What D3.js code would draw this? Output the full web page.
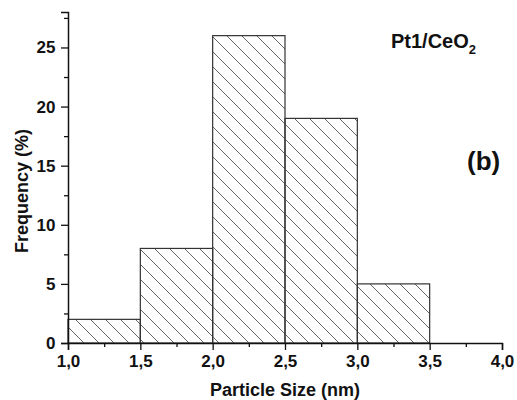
<!DOCTYPE html>
<html>
<head>
<meta charset="utf-8">
<script src="https://cdn.jsdelivr.net/npm/d3@7"></script>
<style>
  body { margin: 0; background: #fff; }
  text { font-family: Arial, "Liberation Sans", sans-serif; font-weight: bold; fill: #111; }
</style>
</head>
<body>
<div id="chart"></div>
<script>
// histogram bins (nm) and frequencies (%)
const binStarts = [1.0, 1.5, 2.0, 2.5, 3.0];
const binEnds = [1.5, 2.0, 2.5, 3.0, 3.5];
const frequencies = [2, 8, 26, 19, 5];
const xTicks = [1.0, 1.5, 2.0, 2.5, 3.0, 3.5, 4.0];
const yTicks = [0, 5, 10, 15, 20, 25];

const margin = {top: 12, right: 15, bottom: 57, left: 68};
const width = 517 - margin.left - margin.right;
const height = 400 - margin.top - margin.bottom;

const svg = d3.select("#chart").append("svg")
    .attr("width", 517)
    .attr("height", 400);

// hatch pattern
const defs = svg.append("defs");
const pat = defs.append("pattern")
    .attr("id", "hatch")
    .attr("patternUnits", "userSpaceOnUse")
    .attr("width", 15)
    .attr("height", 15);
pat.append("path")
    .attr("d", "M-4,-4 L19,19 M-4,11 L4,19 M11,-4 L19,4")
    .attr("stroke", "#666")
    .attr("stroke-width", 1);

const g = svg.append("g")
    .attr("transform", `translate(${margin.left},${margin.top})`);

const x = d3.scaleLinear().domain([1, 4]).range([0, width]);
const y = d3.scaleLinear().domain([0, 28]).range([height, 0]);

// bars
g.selectAll("rect.bar")
    .data(frequencies)
    .enter()
    .append("rect")
    .attr("class", "bar")
    .attr("x", (d, i) => x(binStarts[i]))
    .attr("width", (d, i) => x(binEnds[i]) - x(binStarts[i]))
    .attr("y", d => y(d))
    .attr("height", d => y(0) - y(d))
    .attr("fill", "url(#hatch)")
    .attr("stroke", "#333")
    .attr("stroke-width", 1.2);

// minor ticks
const xAxisMinor = d3.axisBottom(x)
    .tickValues(d3.range(1.25, 4, 0.5))
    .tickSize(4)
    .tickFormat("");
const yAxisMinor = d3.axisLeft(y)
    .tickValues([2.5, 7.5, 12.5, 17.5, 22.5, 27.5])
    .tickSize(4)
    .tickFormat("");

const xAxis = d3.axisBottom(x)
    .tickValues(xTicks)
    .tickSize(7)
    .tickFormat(d => d3.format(".1f")(d).replace(".", ","));
const yAxis = d3.axisLeft(y)
    .tickValues(yTicks)
    .tickSize(7)
    .tickFormat(d3.format("d"));

g.append("g")
    .attr("transform", `translate(0,${height})`)
    .call(xAxisMinor)
    .call(a => a.select(".domain").remove());
g.append("g")
    .call(yAxisMinor)
    .call(a => a.select(".domain").remove());

const xg = g.append("g")
    .attr("class", "x-axis")
    .attr("transform", `translate(0,${height})`)
    .call(xAxis);
const yg = g.append("g")
    .attr("class", "y-axis")
    .call(yAxis);

g.selectAll(".domain").attr("stroke", "#111").attr("stroke-width", 1.5);
g.selectAll(".tick line").attr("stroke", "#111").attr("stroke-width", 1.3);

xg.selectAll("text")
    .style("font-size", "17px")
    .attr("dy", "0.85em");
yg.selectAll("text")
    .style("font-size", "17px")
    .attr("dx", "-0.15em");

// axis titles
svg.append("text")
    .attr("x", margin.left + x(2.5))
    .attr("y", 396)
    .attr("text-anchor", "middle")
    .style("font-size", "18px")
    .text("Particle Size (nm)");

svg.append("text")
    .attr("transform", "translate(28,191) rotate(-90)")
    .attr("text-anchor", "middle")
    .style("font-size", "18px")
    .text("Frequency (%)");

// annotations
const lab = svg.append("text")
    .attr("x", 391)
    .attr("y", 48)
    .style("font-size", "20px");
lab.append("tspan").text("Pt1/CeO");
lab.append("tspan").attr("dy", 6).style("font-size", "13px").text("2");

svg.append("text")
    .attr("x", 467)
    .attr("y", 170)
    .style("font-size", "26px")
    .text("(b)");
</script>
</body>
</html>
